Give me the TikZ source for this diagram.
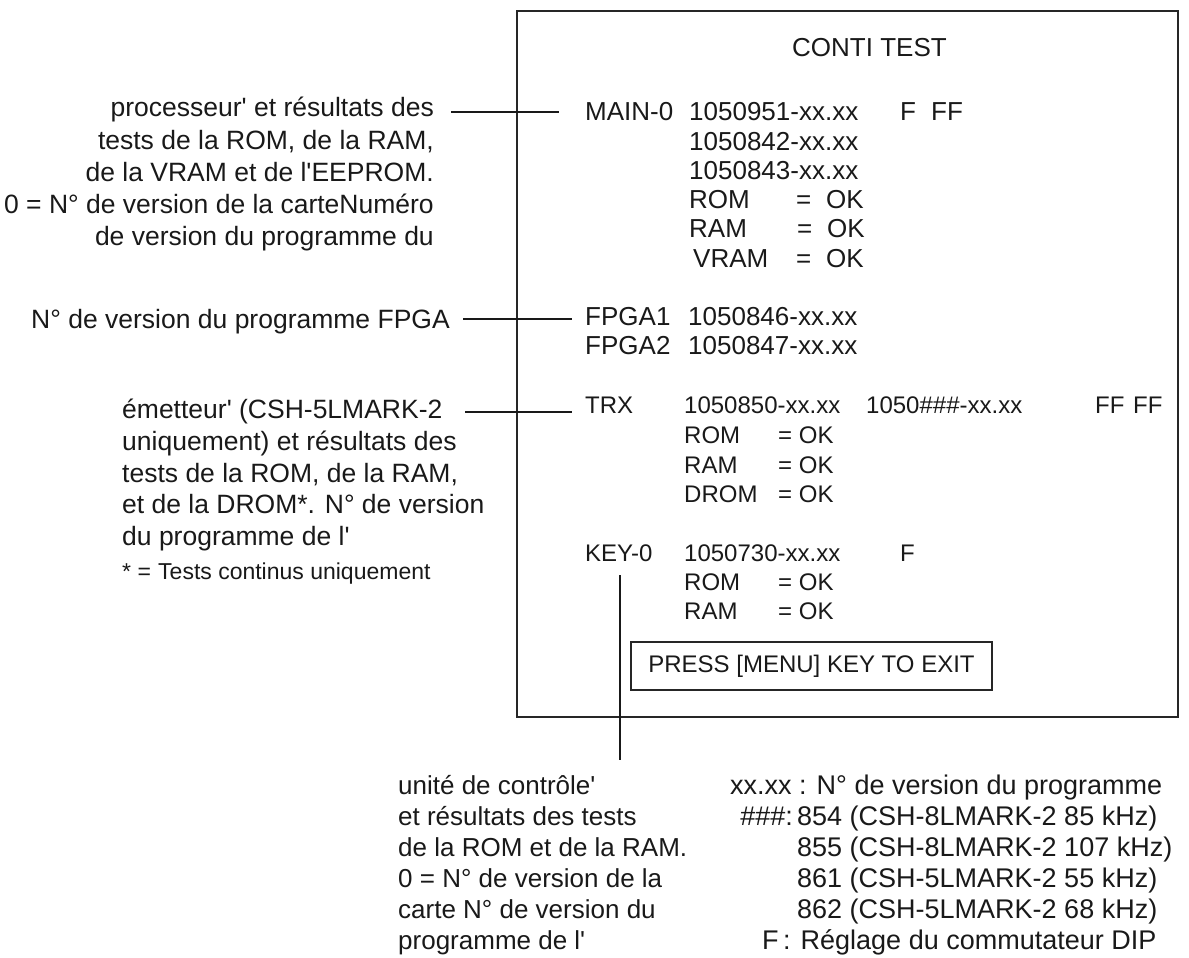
\documentclass[tikz,border=0pt]{standalone}
\usepackage{fontspec}
\setmainfont{Liberation Sans}
\newcommand{\ap}{\textquotesingle}
\begin{document}
\begin{tikzpicture}[x=1pt,y=-1pt,
  t/.style={inner sep=0pt, anchor=base west, font=\fontsize{26}{30}\selectfont, text=black!90},
  te/.style={t, anchor=base east},
  tl/.style={t, font=\fontsize{26.5}{30}\selectfont},
  tle/.style={tl, anchor=base east},
  tb/.style={t, font=\fontsize{27}{30}\selectfont},
  tbe/.style={tb, anchor=base east},
  ts/.style={t, font=\fontsize{24}{28}\selectfont},
  tn/.style={t, font=\fontsize{23}{26}\selectfont},
  lead/.style={line width=1.3pt, black!90},
  frame/.style={line width=2.5pt, black!85},
  pbox/.style={draw=black!85, line width=1.3pt, minimum width=361pt, minimum height=48pt, inner sep=0pt, font=\fontsize{24}{28}\selectfont, text=black!90}]
\useasboundingbox (0,0) rectangle (1189,958);
% screen frame
\coordinate (fa) at (517,11);
\coordinate (fb) at (1178,717);
\draw[frame] (fa) rectangle (fb);
\node[t] (title) at (792,57) {CONTI TEST};
% MAIN
\node[t] (main) at (585,120) {MAIN-0};
\node[t] (m1) at (689,120) {1050951-xx.xx};
\node[t] (mf) at (900,120) {F};
\node[t] (mff) at (931,120) {FF};
\node[t] (m2) at (689,150) {1050842-xx.xx};
\node[t] (m3) at (689,179) {1050843-xx.xx};
\node[t] (mrom) at (689,208) {ROM};
\node[t] (mrome) at (796,208) {=};
\node[t] (mromo) at (826,208) {OK};
\node[t] (mram) at (689,237) {RAM};
\node[t] (mrame) at (797,237) {=};
\node[t] (mramo) at (827,237) {OK};
\node[t] (mvram) at (693,267) {VRAM};
\node[t] (mvrame) at (796,267) {=};
\node[t] (mvramo) at (826,267) {OK};
% FPGA
\node[t] (fp1) at (585,325) {FPGA1};
\node[t] (fp1n) at (688,325) {1050846-xx.xx};
\node[t] (fp2) at (585,354) {FPGA2};
\node[t] (fp2n) at (688,354) {1050847-xx.xx};
% TRX
\node[ts] (trx) at (585,413) {TRX};
\node[ts] (trx1) at (684,413) {1050850-xx.xx};
\node[ts] (trx2) at (866,413) {1050\#\#\#-xx.xx};
\node[ts] (trxf1) at (1095,413) {FF};
\node[ts] (trxf2) at (1133,413) {FF};
\node[ts] (trom) at (684,443) {ROM};
\node[ts] (tromo) at (778,443) {= OK};
\node[ts] (tram) at (684,473) {RAM};
\node[ts] (tramo) at (778,473) {= OK};
\node[ts] (tdrom) at (684,502) {DROM};
\node[ts] (tdromo) at (778,502) {= OK};
% KEY
\node[ts] (key) at (585,561) {KEY-0};
\node[ts] (key1) at (684,561) {1050730-xx.xx};
\node[ts] (keyf) at (900,561) {F};
\node[ts] (krom) at (684,590) {ROM};
\node[ts] (kromo) at (778,590) {= OK};
\node[ts] (kram) at (684,619) {RAM};
\node[ts] (kramo) at (778,619) {= OK};
\node[pbox] (press) at (811.5,666) {PRESS [MENU] KEY TO EXIT};
% left block 1
\node[tle] (a1) at (434,117) {processeur\ap{} et résultats des};
\node[tle] (a2) at (434,149) {tests de la ROM, de la RAM,};
\node[tle] (a3) at (434,181) {de la VRAM et de l\ap EEPROM.};
\node[tle] (a4) at (434,213) {0 = N° de version de la carteNuméro};
\node[tle] (a5) at (434,245) {de version du programme du};
% left block 2
\node[tle] (b1) at (450,328) {N° de version du programme FPGA};
% left block 3
\node[tl] (c1) at (122,418) {émetteur\ap{} (CSH-5LMARK-2};
\node[tl] (c2) at (122,450) {uniquement) et résultats des};
\node[tl] (c3) at (122,482) {tests de la ROM, de la RAM,};
\node[tl] (c4) at (122,513) {et de la DROM*. N° de version};
\node[tl] (c5) at (122,545) {du programme de l\ap};
\node[tn] (c6a) at (122,579) {* =};
\node[tn] (c6) at (158,579) {Tests continus uniquement};
% bottom left
\node[t] (d1) at (398,794) {unité de contrôle\ap};
\node[t] (d2) at (398,825) {et résultats des tests};
\node[t] (d3) at (398,856) {de la ROM et de la RAM.};
\node[t] (d4) at (398,887) {0 = N° de version de la};
\node[t] (d5) at (398,918) {carte N° de version du};
\node[t] (d6) at (398,949) {programme de l\ap};
% bottom right
\node[tb] (e1) at (730,794) {xx.xx : N° de version du programme};
\node[tbe] (e2h) at (793,825) {\#\#\#:};
\node[tb] (e2) at (797,825) {854 (CSH-8LMARK-2 85 kHz)};
\node[tb] (e3) at (797,856) {855 (CSH-8LMARK-2 107 kHz)};
\node[tb] (e4) at (797,887) {861 (CSH-5LMARK-2 55 kHz)};
\node[tb] (e5) at (797,918) {862 (CSH-5LMARK-2 68 kHz)};
\node[tb] (e6f) at (762,949) {F};
\node[tb] (e6) at (783,949) {: Réglage du commutateur DIP};
% leaders
\coordinate (l1a) at (451,112); \coordinate (l1b) at (559,112);
\coordinate (l2a) at (463,319); \coordinate (l2b) at (572,319);
\coordinate (l3a) at (465,412); \coordinate (l3b) at (572,412);
\coordinate (l4a) at (620,575); \coordinate (l4b) at (620,760);
\draw[lead] (l1a) -- (l1b);
\draw[lead] (l2a) -- (l2b);
\draw[lead] (l3a) -- (l3b);
\draw[lead] (l4a) -- (l4b);
\end{tikzpicture}
\end{document}
